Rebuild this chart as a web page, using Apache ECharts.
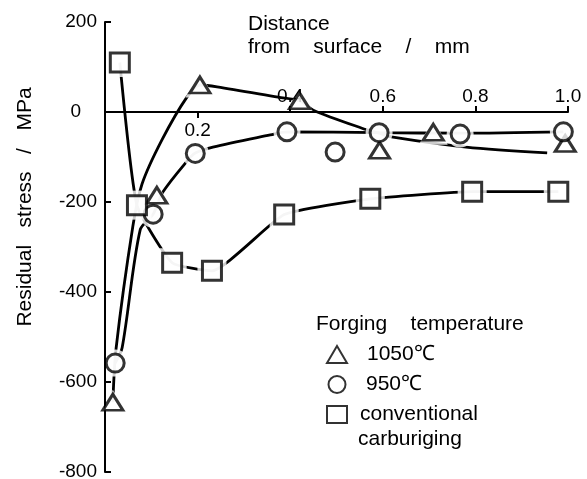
<!DOCTYPE html>
<html>
<head>
<meta charset="utf-8">
<script src="https://cdn.jsdelivr.net/npm/echarts@6/dist/echarts.min.js"></script>
<style>
html,body{margin:0;padding:0;background:#fff;}
#chart{width:587px;height:479px;}
</style>
</head>
<body>
<div id="chart"></div>
<script>
// ---- measured data (distance from surface in mm, residual stress in MPa) ----
const dist1050   = [0.017, 0.112, 0.205, 0.420, 0.593, 0.709, 0.994];
const stress1050 = [-645, -185, 60, 25, -85, -45, -70];

const dist950    = [0.022, 0.104, 0.195, 0.393, 0.497, 0.592, 0.767, 0.990];
const stress950  = [-558, -227, -92, -44, -89, -46, -49, -44];

const distConv   = [0.032, 0.069, 0.145, 0.231, 0.387, 0.573, 0.793, 0.979];
const stressConv = [110, -207, -335, -353, -228, -193, -177, -177];

// ---- hand-drawn trend curves ----
const fit1050X = [0.017, 0.024, 0.060, 0.080, 0.123, 0.177, 0.205, 0.242, 0.374, 0.420, 0.450, 0.555, 0.592, 0.622, 0.780, 0.955];
const fit1050Y = [-645, -525, -255, -160, -62, 33, 60, 56, 33, 25, 4, -36, -47, -56, -78, -91];

const fit950X = [0.022, 0.037, 0.076, 0.104, 0.125, 0.179, 0.195, 0.233, 0.357, 0.393, 0.592, 0.767, 0.990];
const fit950Y = [-558, -524, -262, -227, -178, -107, -91, -78, -51, -44, -46, -47, -44];

// ---- axis ticks ----
const yMin = -800, yMax = 200, yStep = 200;
const yTicks = [-800, -600, -400, -200, 0, 200];
const xTicksAbove = [0.4, 0.6, 0.8, 1.0];
const xTicksBelow = [0.2];

const names = ['1050℃', '950℃', 'conventional'];

const zip = (a, b) => a.map((v, i) => [v, b[i]]);
const FONT = "'Liberation Sans', Arial, Helvetica, sans-serif";

const W = 587, H = 479;
const grid = { left: 105, right: 19, top: 22, bottom: 7 };
// the x axis crosses the y axis at stress = 0
const zeroOffset = -(H - grid.top - grid.bottom) * (0 - yMin) / (yMax - yMin);

const markerStyle = { color: '#fff', borderColor: '#000', borderWidth: 3 };
const lineStyle = { color: '#000', width: 2.8 };

function markers(name, data, symbol, size) {
  return { name, type: 'scatter', data, symbol, symbolSize: size, itemStyle: markerStyle, z: 5, silent: true };
}
function halo(data, symbol, size) {
  return { name: 'halo', type: 'scatter', data, symbol, symbolSize: size,
    itemStyle: { color: '#fff', borderWidth: 0 }, z: 2, silent: true };
}
function trend(data, smooth) {
  return { name: 'trend', type: 'line', data, symbol: 'none', smooth, lineStyle, z: 1, silent: true };
}

const chart = echarts.init(document.getElementById('chart'), null, { renderer: 'canvas' });

const xCommon = {
  type: 'value', min: 0, max: 1.0,
  position: 'bottom', offset: zeroOffset,
  splitLine: { show: false },
  z: 3
};

chart.setOption({
  animation: false,
  backgroundColor: '#fff',
  textStyle: { fontFamily: FONT, color: '#000' },
  grid: Object.assign({ containLabel: false, outerBoundsMode: 'none' }, grid),
  title: [
    { text: 'Distance\nfrom    surface    /    mm', left: 243, top: 8,
      textStyle: { fontFamily: FONT, fontSize: 21, fontWeight: 'normal', color: '#000', lineHeight: 23 } },
    { text: 'Forging    temperature', left: 311, top: 309,
      textStyle: { fontFamily: FONT, fontSize: 21, fontWeight: 'normal', color: '#000' } }
  ],
  legend: {
    orient: 'vertical', left: 321, top: 339,
    itemWidth: 20, itemHeight: 17, itemGap: 9,
    textStyle: { fontFamily: FONT, fontSize: 21, color: '#000' },
    data: [
      { name: names[0], textStyle: { padding: [0, 0, 0, 15] } },
      { name: names[1], textStyle: { padding: [0, 0, 0, 14] } },
      { name: names[2], textStyle: { padding: [0, 0, 0, 8] } }
    ],
    selectedMode: false
  },
  graphic: [
    { type: 'text', x: 25, y: 207, rotation: Math.PI / 2,
      style: { text: 'Residual   stress   /   MPa', font: "21px " + FONT, fill: '#000', align: 'center', verticalAlign: 'middle' } },
    { type: 'text', x: 358, y: 439,
      style: { text: 'carburiging', font: "21px " + FONT, fill: '#000', align: 'left', verticalAlign: 'middle' } }
  ],
  xAxis: [
    Object.assign({}, xCommon, {
      axisLine: { show: true, onZero: false, lineStyle: { color: '#000', width: 2 } },
      axisTick: { show: true, inside: true, length: 6, lineStyle: { color: '#000', width: 2 }, customValues: xTicksAbove },
      axisLabel: { inside: true, margin: 6, fontSize: 19, fontFamily: FONT, color: '#000',
        customValues: xTicksAbove, formatter: v => v.toFixed(1) }
    }),
    Object.assign({}, xCommon, {
      axisLine: { show: false, onZero: false },
      axisTick: { show: true, inside: false, length: 6, lineStyle: { color: '#000', width: 2 }, customValues: xTicksBelow },
      axisLabel: { inside: false, margin: 9, fontSize: 19, fontFamily: FONT, color: '#000',
        customValues: xTicksBelow, formatter: v => v.toFixed(1) }
    })
  ],
  yAxis: {
    type: 'value', min: yMin, max: yMax, interval: yStep,
    splitLine: { show: false },
    axisLine: { show: true, onZero: false, lineStyle: { color: '#000', width: 2 } },
    axisTick: { show: true, inside: true, length: 6, lineStyle: { color: '#000', width: 2 } },
    axisLabel: { margin: 8, fontSize: 19, fontFamily: FONT, color: '#000',
      customValues: yTicks, formatter: v => (v === 0 ? '0   ' : String(v)) },
    z: 3
  },
  series: [
    trend(zip(fit1050X, fit1050Y), 0.3),
    trend(zip(fit950X, fit950Y), 0.3),
    trend(zip(distConv, stressConv), 0.15),
    halo(zip(dist1050, stress1050), 'triangle', [29, 25]),
    halo(zip(dist950, stress950), 'circle', 27),
    halo(zip(distConv, stressConv), 'rect', 29),
    markers(names[0], zip(dist1050, stress1050), 'triangle', [20, 16]),
    markers(names[1], zip(dist950, stress950), 'circle', 18),
    markers(names[2], zip(distConv, stressConv), 'rect', 19)
  ]
});
</script>
</body>
</html>
